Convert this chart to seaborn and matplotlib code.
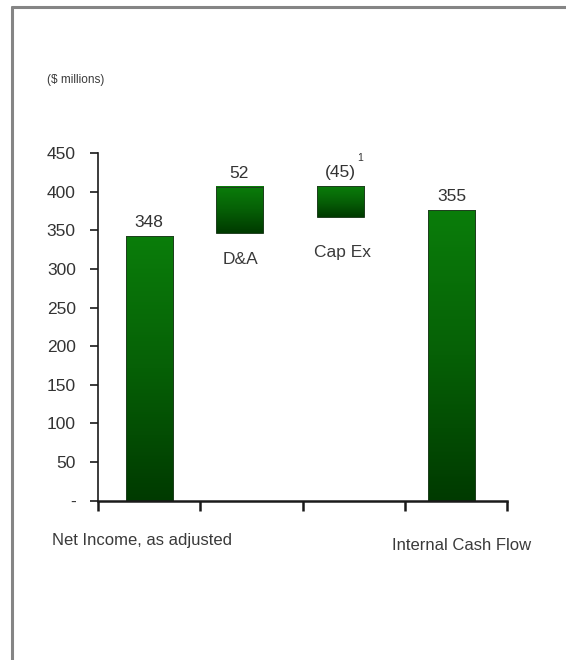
import numpy as np
import pandas as pd
import matplotlib.pyplot as plt
import seaborn as sns
from matplotlib.colors import LinearSegmentedColormap
from matplotlib.lines import Line2D

# bar geometry as drawn in the source chart ($ millions)
categories = ["Net Income, as adjusted", "D&A", "Cap Ex", "Internal Cash Flow"]
bar_bottom = [0, 346, 367, 0]
bar_top = [342, 406, 407, 376]
value_labels = ["348", "52", "(45)", "355"]
y_ticks = [0, 50, 100, 150, 200, 250, 300, 350, 400, 450]
y_tick_labels = ["-", "50", "100", "150", "200", "250", "300", "350", "400", "450"]

sns.set_theme(style="white")
plt.rcParams['font.family'] = ['Liberation Sans', 'DejaVu Sans']

W, H = 566, 660
fig = plt.figure(figsize=(W / 100, H / 100), dpi=100)
ax = fig.add_axes([98 / W, 1 - 500.7 / H, 409 / W, 347.7 / H])

df = pd.DataFrame({"item": categories, "top": bar_top})
sns.barplot(data=df, x="item", y="top", ax=ax, width=0.46, color="#0a7d0a",
            saturation=1, edgecolor="#1f3f1f", linewidth=0.7)

# floating bars + slight left shift of the middle bars as in the original
shift = [0.0, -0.12, -0.13, -0.04]
cmap = LinearSegmentedColormap.from_list("green_grad", ["#003a00", "#066006", "#0a7d0a"])
grad = np.linspace(1, 0, 256).reshape(-1, 1)
for p, b, t, s in zip(list(ax.patches), bar_bottom, bar_top, shift):
    p.set_y(b)
    p.set_height(t - b)
    p.set_x(p.get_x() + s)
    p.set_facecolor("none")
    x0, w = p.get_x(), p.get_width()
    ax.imshow(grad, cmap=cmap, extent=[x0, x0 + w, b, t], aspect="auto",
              origin="upper", zorder=p.get_zorder() - 0.1, clip_path=p)

# value labels
for p, lab, t in zip(ax.patches, value_labels, bar_top):
    cx = p.get_x() + p.get_width() / 2
    ax.annotate(lab, xy=(cx, t), xytext=(0, 6.5), textcoords="offset points",
                ha="center", va="baseline", fontsize=12.5, color="#333333")
capex = ax.patches[2]
ax.annotate("1", xy=(capex.get_x() + capex.get_width() / 2, bar_top[2]),
            xytext=(14, 20.5), textcoords="offset points",
            ha="center", va="center", fontsize=7.5, color="#333333")

ax.set_xlim(-0.5, 3.5)
ax.set_ylim(0, 450)
ax.set_xticks([-0.5, 0.5, 1.5, 2.5, 3.5])
ax.set_xticklabels([])
ax.set_yticks(y_ticks)
ax.set_yticklabels(y_tick_labels)
ax.set_xlabel("")
ax.set_ylabel("")

sns.despine(ax=ax)
for side in ["left", "bottom"]:
    ax.spines[side].set_color("#1a1a1a")
ax.spines["left"].set_linewidth(1.2)
ax.spines["bottom"].set_linewidth(1.8)
ax.tick_params(axis="y", direction="out", left=True, length=6, width=1.2,
               color="#1a1a1a", labelsize=12.5, labelcolor="#333333", pad=10)
ax.tick_params(axis="x", direction="out", bottom=True, length=7, width=1.8,
               color="#1a1a1a")

# free text
def px_text(x, y, s, **kw):
    fig.text(x / W, 1 - y / H, s, color="#3a3a3a", **kw)

px_text(47, 80, "($ millions)", fontsize=8.5, va="center", ha="left")
px_text(241, 260, "D&A", fontsize=12.5, va="center", ha="center")
px_text(343, 253, "Cap Ex", fontsize=12.5, va="center", ha="center")
px_text(52, 541, "Net Income, as adjusted", fontsize=12, va="center", ha="left")
px_text(392, 546, "Internal Cash Flow", fontsize=12, va="center", ha="left")

# gray frame along top and left
fig.add_artist(Line2D([12 / W, 12 / W], [1 - 7 / H, 0], color="#858585", lw=2.2))
fig.add_artist(Line2D([12 / W, 1], [1 - 7 / H, 1 - 7 / H], color="#858585", lw=2.2))

fig.savefig("out.png", dpi=100)
